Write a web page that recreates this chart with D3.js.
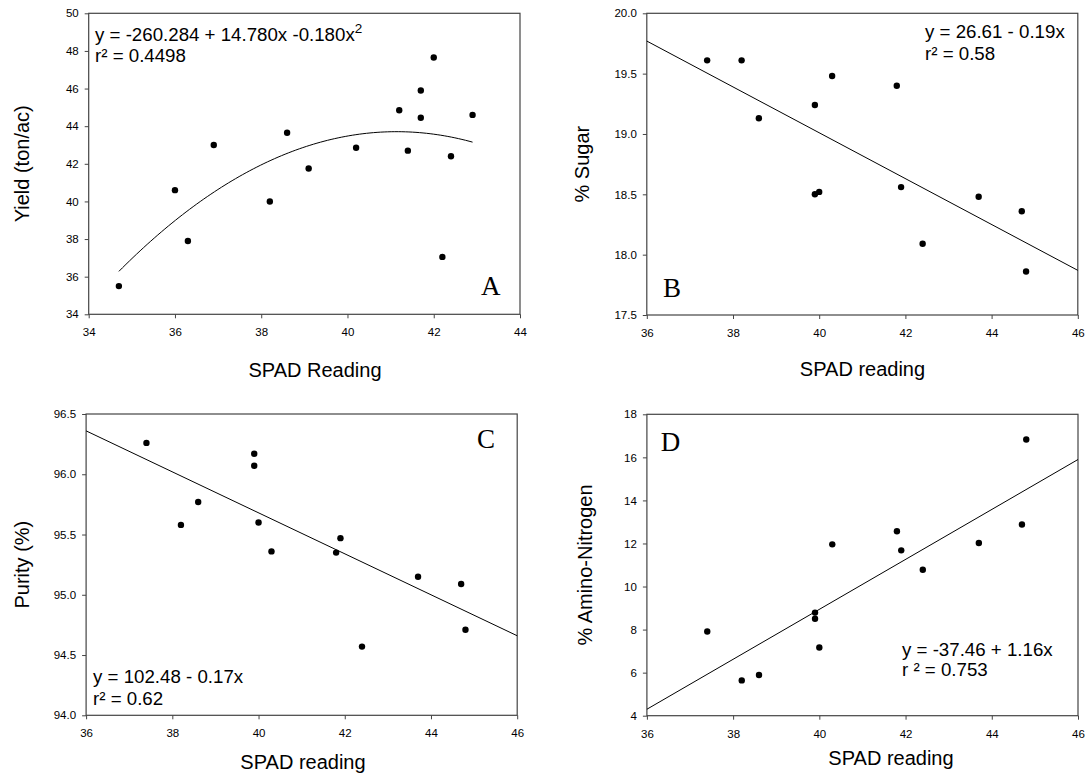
<!DOCTYPE html>
<html><head><meta charset="utf-8">
<script src="https://cdn.jsdelivr.net/npm/d3@7/dist/d3.min.js"></script>
<style>
body{margin:0;background:#fff;}
svg{display:block;}
text{font-family:"Liberation Sans",Arial,sans-serif;fill:#000;}
</style></head>
<body><svg id="c" width="1086" height="774"></svg>
<script>
// ---- Panel A data: Yield vs SPAD reading ----
const spadA  = [34.7,36.0,36.3,36.9,38.2,38.6,39.1,40.2,41.2,41.4,41.7,41.7,42.0,42.2,42.4,42.9];
const yieldA = [35.5,40.6,37.9,43.0,40.0,43.65,41.75,42.85,44.85,42.7,45.9,44.45,47.65,37.05,42.4,44.6];
// ---- Panels B, C, D share SPAD readings ----
const spad    = [37.4,38.2,38.6,39.9,39.9,40.0,40.3,41.8,41.9,42.4,43.7,44.7,44.8];
const sugar   = [19.61,19.61,19.13,19.24,18.50,18.52,19.48,19.40,18.56,18.09,18.48,18.36,17.86];
const spadC   = [37.4,38.2,38.6,39.9,39.9,40.0,40.3,41.8,41.9,42.4,43.7,44.7,44.8];
const purity  = [96.26,95.58,95.77,96.17,96.07,95.60,95.36,95.35,95.47,94.57,95.15,95.09,94.71];
const spadD   = [37.4,38.2,38.6,39.9,39.9,40.0,40.3,41.8,41.9,42.4,43.7,44.7,44.8];
const amino   = [7.91,5.64,5.89,8.79,8.50,7.17,11.96,12.57,11.68,10.78,12.02,12.88,16.83];
// regression coefficients [intercept, slope] printed on the chart
const fitB = [26.61,-0.19];
const fitC = [102.48,-0.17];
const fitD = [-37.46,1.16];
// tick values
const xTicksA = [34,36,38,40,42,44];
const yTicksA = [34,36,38,40,42,44,46,48,50];
const xTicksBCD = [36,38,40,42,44,46];
const yTicksB = [17.5,18.0,18.5,19.0,19.5,20.0];
const yTicksC = [94.0,94.5,95.0,95.5,96.0,96.5];
const yTicksD = [4,6,8,10,12,14,16,18];
// labels
const xTitles = ["SPAD Reading","SPAD reading","SPAD reading","SPAD reading"];
const yTitles = ["Yield (ton/ac)","% Sugar","Purity (%)","% Amino-Nitrogen"];
const letters = ["A","B","C","D"];

const svg = d3.select("#c");

function quadFit(xs, ys){
  // least squares y = a + b x + c x^2
  let S=[[0,0,0],[0,0,0],[0,0,0]], T=[0,0,0];
  xs.forEach((x,i)=>{const v=[1,x,x*x];for(let r=0;r<3;r++){T[r]+=v[r]*ys[i];for(let c=0;c<3;c++)S[r][c]+=v[r]*v[c];}});
  const M=S.map((row,i)=>row.concat([T[i]]));
  for(let i=0;i<3;i++){
    for(let k=i+1;k<3;k++){const f=M[k][i]/M[i][i];for(let j=i;j<4;j++)M[k][j]-=f*M[i][j];}
  }
  const sol=[0,0,0];
  for(let i=2;i>=0;i--){let s=M[i][3];for(let j=i+1;j<3;j++)s-=M[i][j]*sol[j];sol[i]=s/M[i][i];}
  return sol;
}

function panel(cfg){
  const g = svg.append("g");
  const x = d3.scaleLinear().domain(cfg.xd).range([cfg.l,cfg.r]);
  const y = d3.scaleLinear().domain(cfg.yd).range([cfg.b,cfg.t]);
  const ax = g.append("g").attr("transform",`translate(0,${cfg.b})`)
    .call(d3.axisBottom(x).tickValues(cfg.xt).tickSize(4).tickSizeOuter(0).tickPadding(10).tickFormat(d3.format("d")));
  const ay = g.append("g").attr("transform",`translate(${cfg.l},0)`)
    .call(d3.axisLeft(y).tickValues(cfg.yt).tickSize(4).tickSizeOuter(0).tickPadding(6).tickFormat(cfg.yf));
  [ax,ay].forEach(a=>{
    a.select(".domain").remove();
    a.selectAll("line").attr("stroke","#444");
    a.selectAll("text").attr("font-size",11.5).attr("fill","#111").style("font-family","'Liberation Sans',Arial,sans-serif");
  });
  g.append("rect").attr("x",cfg.l).attr("y",cfg.t).attr("width",cfg.r-cfg.l).attr("height",cfg.b-cfg.t)
    .attr("fill","none").attr("stroke","#444").attr("stroke-width",1.2);
  g.append("path").attr("d",d3.line().x(d=>x(d[0])).y(d=>y(d[1]))(cfg.line))
    .attr("fill","none").attr("stroke","#000").attr("stroke-width",1);
  g.selectAll("circle.p").data(cfg.xs.map((v,i)=>[v,cfg.ys[i]])).join("circle")
    .attr("cx",d=>x(d[0])).attr("cy",d=>y(d[1])).attr("r",3.2).attr("fill","#000");
  g.append("text").attr("x",cfg.xtx).attr("y",cfg.xty).attr("text-anchor","middle").attr("font-size",20).text(cfg.xtitle);
  g.append("text").attr("transform",`translate(${cfg.ytx},${(cfg.t+cfg.b)/2}) rotate(-90)`)
    .attr("text-anchor","middle").attr("font-size",20).text(cfg.ytitle);
  g.append("text").attr("x",cfg.lx).attr("y",cfg.ly).attr("font-size",27)
    .style("font-family","'Liberation Serif','Times New Roman',serif").text(cfg.letter);
  const e = g.append("text").attr("x",cfg.ex).attr("y",cfg.ey).attr("font-size",18.7);
  cfg.eq(e);
  g.append("text").attr("x",cfg.ex).attr("y",cfg.ey2).attr("font-size",18.7).text(cfg.r2);
}

// Panel A
const qa = quadFit(spadA,yieldA);
const xa0 = d3.min(spadA), xa1 = d3.max(spadA);
const curveA = d3.range(0,101).map(i=>{const xv=xa0+(xa1-xa0)*i/100;return [xv,qa[0]+qa[1]*xv+qa[2]*xv*xv];});
panel({l:88.7,r:520,t:13.3,b:314.3,xd:[34,44],yd:[34,50],xt:xTicksA,yt:yTicksA,yf:d3.format("d"),
  xs:spadA,ys:yieldA,line:curveA,xtitle:xTitles[0],ytitle:yTitles[0],xtx:315,xty:376.5,ytx:29,
  letter:letters[0],lx:481,ly:295.3,ex:95,ey:41,ey2:61.7,
  eq:e=>{e.append("tspan").text("y = -260.284 + 14.780x -0.180x");e.append("tspan").attr("dy",-8).attr("font-size",13.5).text("2");},
  r2:"r² = 0.4498"});
// Panel B
const lineOf=(f,d)=>d.map(xv=>[xv,f[0]+f[1]*xv]);
panel({l:646.8,r:1077.8,t:13.3,b:315,xd:[36,46],yd:[17.5,20],xt:xTicksBCD,yt:yTicksB,yf:d3.format(".1f"),
  xs:spad,ys:sugar,line:lineOf(fitB,[36,46]),xtitle:xTitles[1],ytitle:yTitles[1],xtx:862.5,xty:376,ytx:589,
  letter:letters[1],lx:663,ly:297.3,ex:925,ey:38.3,ey2:60,
  eq:e=>e.text("y = 26.61 - 0.19x"),r2:"r² = 0.58"});
// Panel C
panel({l:86.1,r:517.2,t:414,b:715.3,xd:[36,46],yd:[94,96.5],xt:xTicksBCD,yt:yTicksC,yf:d3.format(".1f"),
  xs:spadC,ys:purity,line:lineOf(fitC,[36,46]),xtitle:xTitles[2],ytitle:yTitles[2],xtx:303,xty:769.3,ytx:29,
  letter:letters[2],lx:477,ly:448.3,ex:93,ey:683.3,ey2:704.7,
  eq:e=>e.text("y = 102.48 - 0.17x"),r2:"r² = 0.62"});
// Panel D
panel({l:646.9,r:1078,t:414.3,b:715.7,xd:[36,46],yd:[4,18],xt:xTicksBCD,yt:yTicksD,yf:d3.format("d"),
  xs:spadD,ys:amino,line:lineOf(fitD,[36,46]),xtitle:xTitles[3],ytitle:yTitles[3],xtx:891,xty:765.3,ytx:592,
  letter:letters[3],lx:660.8,ly:451,ex:902,ey:656,ey2:676,
  eq:e=>e.text("y = -37.46 + 1.16x"),r2:"r ² = 0.753"});
</script></body></html>
